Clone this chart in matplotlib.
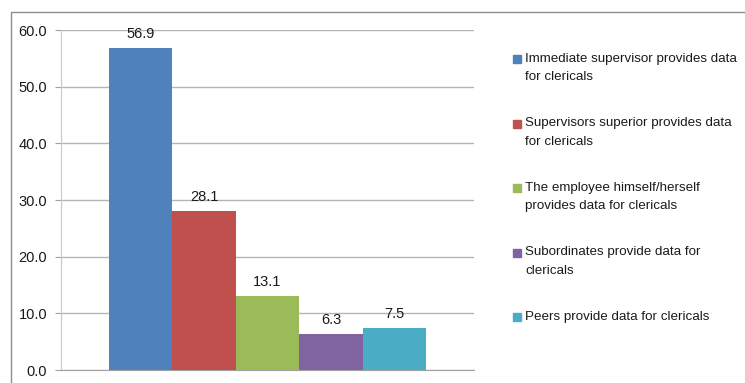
import numpy as np
import matplotlib.pyplot as plt
from matplotlib.patches import Rectangle

plt.rcParams["font.family"] = ["Liberation Sans", "DejaVu Sans"]

# source of data for clerical staff appraisal (percent)
sources = [
    "Immediate supervisor provides data\nfor clericals",
    "Supervisors superior provides data\nfor clericals",
    "The employee himself/herself\nprovides data for clericals",
    "Subordinates provide data for\nclericals",
    "Peers provide data for clericals",
]
percent = [56.9, 28.1, 13.1, 6.3, 7.5]
colors = ["#4F81BD", "#C0504D", "#9BBB59", "#8064A2", "#4BACC6"]

W, H = 745, 383
fig = plt.figure(figsize=(W / 100, H / 100), dpi=100)
ax = fig.add_axes([61 / W, 13 / H, (474 - 61) / W, (370 - 30) / H])

x = np.arange(len(percent))
bars = ax.bar(x, percent, width=1.0, color=colors, zorder=3)
ax.bar_label(bars, labels=["%.1f" % v for v in percent], padding=5,
             fontsize=10.5, color="#1a1a1a")

ax.set_xlim(-1.257, len(percent) - 1 + 1.257)
ax.set_ylim(0, 60)
ax.set_yticks(np.arange(0, 61, 10))
ax.set_yticklabels(["%.1f" % t for t in np.arange(0, 61, 10)])
ax.set_xticks([])
ax.yaxis.grid(True, color="#b4b4b4", linewidth=1.0, zorder=0)
ax.tick_params(axis="y", length=4, width=0.8, color="#a0a0a0", pad=6,
               labelsize=10.5, labelcolor="#1a1a1a")
for side in ["top", "right"]:
    ax.spines[side].set_visible(False)
ax.spines["left"].set_color("#c8c8c8")
ax.spines["bottom"].set_color("#a0a0a0")

# legend drawn by hand so the swatch sits on the first text line
for i, (lab, c) in enumerate(zip(sources, colors)):
    top = 52 + 64.5 * i
    fig.patches.append(Rectangle((513 / W, 1 - (top + 11) / H), 8 / W, 8 / H,
                                 transform=fig.transFigure, color=c))
    fig.text(525 / W, 1 - (top + 1) / H, lab, fontsize=9.6, color="#1a1a1a",
             va="top", ha="left", linespacing=1.7)

# outer chart border
fig.patches.append(Rectangle((10.5 / W, -0.1), 1.2, 1 - 11.5 / H + 0.1,
                             transform=fig.transFigure, fill=False,
                             edgecolor="#8c8c8c", linewidth=1.0))

fig.savefig("out.png", dpi=100)
